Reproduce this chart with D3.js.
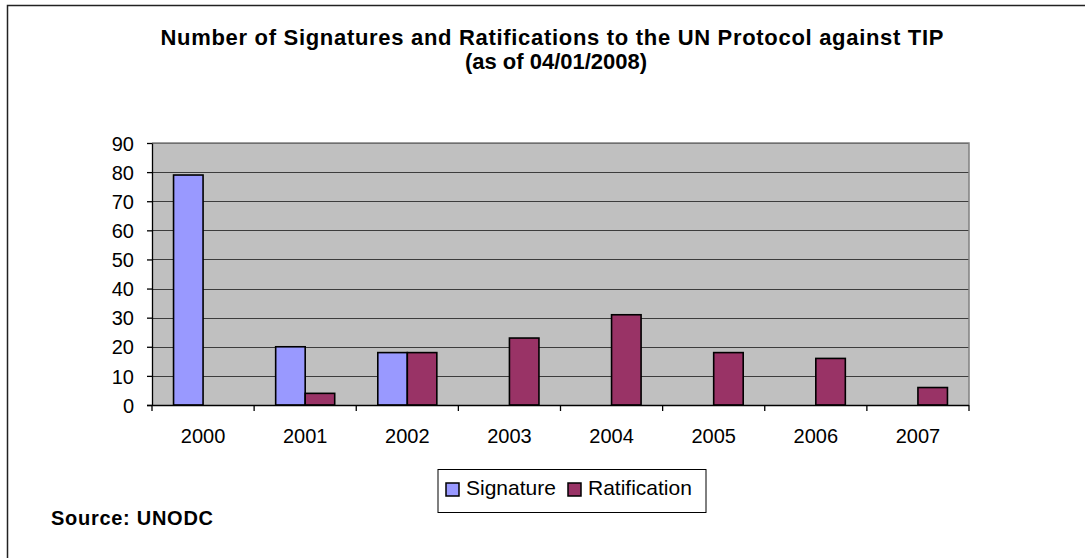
<!DOCTYPE html>
<html><head><meta charset="utf-8">
<script src="https://cdn.jsdelivr.net/npm/d3@7"></script>
<style>html,body{margin:0;padding:0;background:#fff;}svg{display:block;}</style>
</head><body>
<svg id="c" width="1085" height="558"></svg>
<script>
const years = ["2000","2001","2002","2003","2004","2005","2006","2007"];
const signature = [79, 20, 18, 0, 0, 0, 0, 0];
const ratification = [0, 4, 18, 23, 31, 18, 16, 6];
const seriesNames = ["Signature", "Ratification"];
const seriesColors = ["#9999ff", "#993366"];
const yTicks = [0,10,20,30,40,50,60,70,80,90];
const titleLines = ["Number of Signatures and Ratifications to the UN Protocol against TIP", "(as of 04/01/2008)"];
const sourceText = "Source: UNODC";

const svg = d3.select("#c");
const font = "'Liberation Sans', Arial, sans-serif";

// outer frame (left & top visible)
svg.append("path").attr("d","M7.5,558 V5.5 H1085").attr("fill","none").attr("stroke","#222").attr("stroke-width",1.5);

const L=152, R=969, T=143, B=405;
const x = d3.scaleBand().domain(years).range([L,R]).padding(0);
const xs = d3.scaleBand().domain(seriesNames).range([0,x.bandwidth()]).paddingInner(0).paddingOuter(0.73);
const y = d3.scaleLinear().domain([0,90]).range([B,T]);

svg.append("rect").attr("x",L).attr("y",T).attr("width",R-L).attr("height",B-T).attr("fill","#c0c0c0");

// gridlines
svg.append("g").selectAll("line").data(yTicks.filter(d=>d>0)).join("line")
  .attr("x1",L).attr("x2",R).attr("y1",d=>Math.round(y(d))+0.5).attr("y2",d=>Math.round(y(d))+0.5)
  .attr("stroke","#3c3c3c").attr("stroke-width",1);

// plot border top/right gray
svg.append("path").attr("d",`M${L},${T} H${R} V${B}`).attr("fill","none").attr("stroke","#808080").attr("stroke-width",1.5);

// bars
const data = [];
years.forEach((yr,i)=>{
  [signature[i], ratification[i]].forEach((v,j)=>{ if(v>0) data.push({yr, s:seriesNames[j], v, c:seriesColors[j]}); });
});
svg.append("g").selectAll("rect").data(data).join("rect")
  .attr("x",d=>x(d.yr)+xs(d.s)).attr("width",xs.bandwidth())
  .attr("y",d=>y(d.v)).attr("height",d=>B-y(d.v))
  .attr("fill",d=>d.c).attr("stroke","#000").attr("stroke-width",1.6);

// y axis
const ya = svg.append("g").attr("transform",`translate(${L},0)`)
  .call(d3.axisLeft(y).tickValues(yTicks).tickSize(5).tickPadding(13).tickSizeOuter(0));
ya.select(".domain").attr("stroke","#000").attr("stroke-width",1.3);
ya.selectAll(".tick line").attr("stroke","#000").attr("stroke-width",1.3);
ya.selectAll(".tick text").attr("font-family",font).attr("font-size",20).attr("fill","#000").attr("dy","0.36em");

// x axis
const xa = svg.append("g").attr("transform",`translate(0,${B})`)
  .call(d3.axisBottom(x).tickSize(0).tickPadding(0));
xa.select(".domain").attr("stroke","#000").attr("stroke-width",1.3).attr("d",`M${L-5},0.5H${R}`);
xa.selectAll(".tick text").attr("font-family",font).attr("font-size",20).attr("fill","#000").attr("y",38).attr("dy",0);
svg.append("g").selectAll("line").data(years.map(d=>x(d)).concat([R])).join("line")
  .attr("x1",d=>d).attr("x2",d=>d).attr("y1",B).attr("y2",B+6).attr("stroke","#000").attr("stroke-width",1.3);

// title
svg.append("text").attr("x",552).attr("y",45).attr("text-anchor","middle")
  .attr("font-family",font).attr("font-weight","bold").attr("font-size",22)
  .attr("textLength",783).attr("lengthAdjust","spacing").text(titleLines[0]);
svg.append("text").attr("x",556).attr("y",69).attr("text-anchor","middle")
  .attr("font-family",font).attr("font-weight","bold").attr("font-size",22)
  .text(titleLines[1]);

// legend
const lg = svg.append("g");
lg.append("rect").attr("x",438).attr("y",469.5).attr("width",268).attr("height",43).attr("fill","#fff").attr("stroke","#000").attr("stroke-width",1);
const legX = [446, 568];
seriesNames.forEach((s,i)=>{
  lg.append("rect").attr("x",legX[i]).attr("y",483).attr("width",13).attr("height",13).attr("fill",seriesColors[i]).attr("stroke","#000").attr("stroke-width",1.5);
  lg.append("text").attr("x",legX[i]+20).attr("y",495).attr("font-family",font).attr("font-size",21).attr("fill","#000").text(s);
});

// source
svg.append("text").attr("x",51).attr("y",525).attr("font-family",font).attr("font-weight","bold").attr("font-size",20)
  .attr("textLength",162).attr("lengthAdjust","spacing").text(sourceText);
</script>
</body></html>
